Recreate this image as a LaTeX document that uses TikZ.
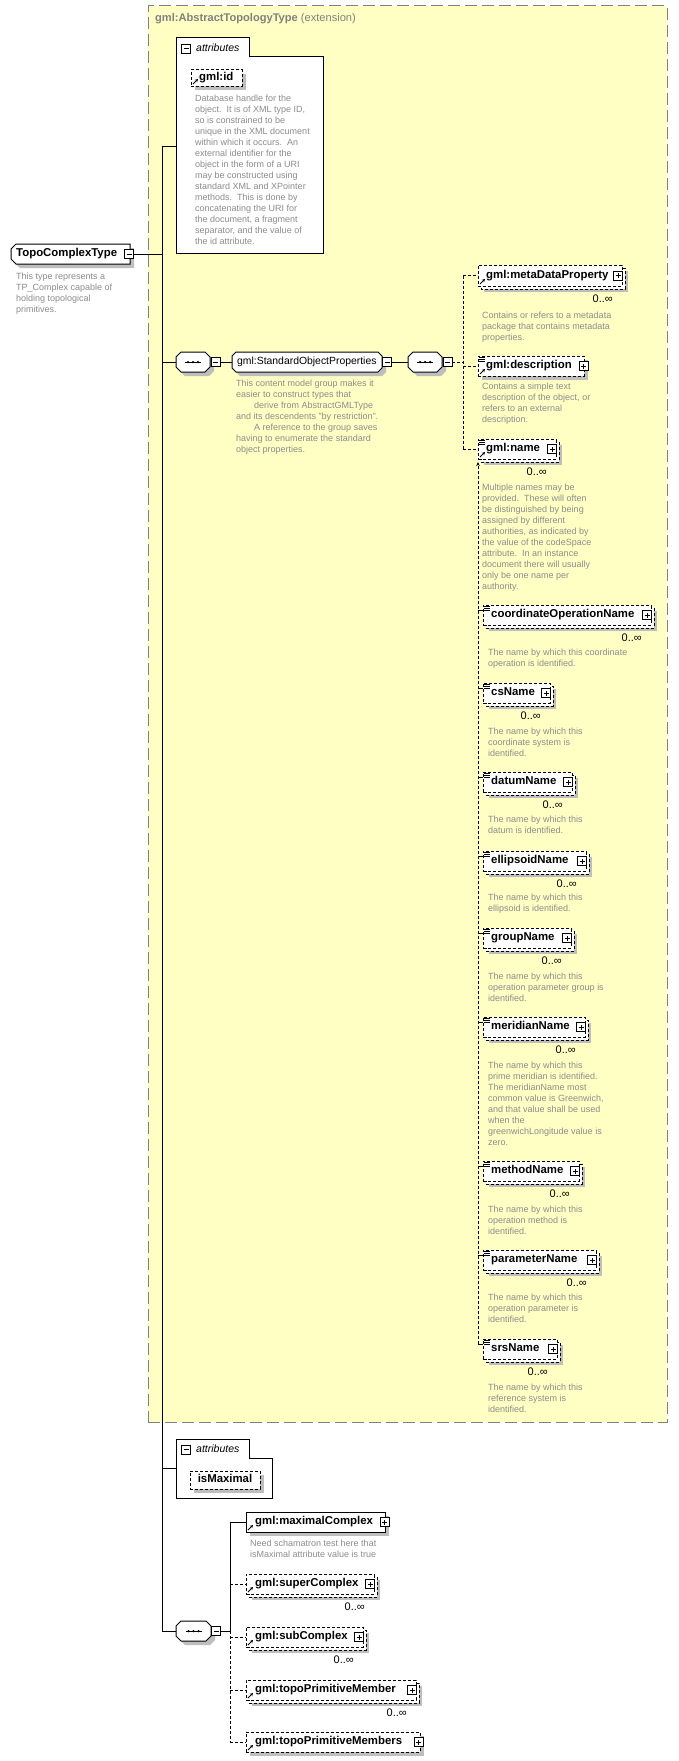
\documentclass[tikz,border=0pt]{standalone}
\usepackage{fontspec}
\setmainfont{Liberation Sans}
\usetikzlibrary{arrows.meta}
\definecolor{yel}{HTML}{FFFFC4}
\definecolor{shad}{HTML}{BEBEBE}
\definecolor{dtext}{HTML}{8C8C8C}
\definecolor{ttl}{HTML}{808080}
\tikzset{
  conn/.style={line width=1pt},
  dconn/.style={line width=1pt, dash pattern=on 3pt off 2pt},
  bx/.style={inner sep=0pt, outer sep=0pt, anchor=north west},
  framed/.style={draw, fill=white, line width=1pt},
  dframe/.style={framed, dash pattern=on 3pt off 2pt},
  lbl/.style={inner sep=0pt, anchor=west, font=\fontsize{11.4}{13}\selectfont\bfseries, text height=8.3pt, text depth=2.4pt},
  dsc/.style={inner sep=0pt, anchor=north west, align=left, text=dtext, font=\fontsize{9}{11}\selectfont},
  mlt/.style={inner sep=0pt, anchor=east, font=\fontsize{11}{12}\selectfont, text height=7.8pt, text depth=0pt},
  pmbox/.style={draw, fill=white, line width=0.8pt, inner sep=0pt, outer sep=0pt, minimum size=9pt},
  attlbl/.style={inner sep=0pt, anchor=west, font=\fontsize{10.5}{12}\selectfont\itshape},
}
% single box with shadow
\newcommand\SB[6]{%
  \fill[shad] (#2+4,#3+4) rectangle (#4+4,#5+4);
  \node[bx, #6, minimum width=#4-#2, minimum height=#5-#3] (#1) at (#2,#3) {};}
% multiple-occurrence box
\newcommand\MB[6]{%
  \fill[shad] (#2+6,#3+6) rectangle (#4+6,#5+6);
  \draw[#6] (#2+3,#3+3) rectangle (#4+3,#5+3);
  \node[bx, #6, minimum width=#4-#2, minimum height=#5-#3] (#1) at (#2,#3) {};}
\newcommand\PLUS[2]{%
  \node[pmbox] (#1) at #2 {};
  \draw[line width=0.8pt] ([xshift=-2.5pt]#1.center) -- ([xshift=2.5pt]#1.center);
  \draw[line width=0.8pt] ([yshift=-2.5pt]#1.center) -- ([yshift=2.5pt]#1.center);}
\newcommand\MINUS[2]{%
  \node[pmbox] (#1) at #2 {};
  \draw[line width=0.8pt] ([xshift=-2.5pt]#1.center) -- ([xshift=2.5pt]#1.center);}
\newcommand\REF[1]{\draw[line width=0.9pt, -{Stealth[length=3pt,width=3.2pt]}] ([shift={(2pt,2pt)}]#1.south west) -- ([shift={(7pt,7pt)}]#1.south west);}
\newcommand\EQV[1]{\foreach \k in {1.5pt,3.5pt,5.5pt}{\draw[line width=0.8pt] ([shift={(1pt,-\k)}]#1.north west) -- ([shift={(6.5pt,-\k)}]#1.north west);}}
\newcommand\ATT[7]{%
  \draw[line width=1pt, fill=white] (#2,#3) -- (#4,#3) -- (#4,#5) -- (#6,#5) -- (#6,#7) -- (#2,#7) -- cycle;
  \node[bx, minimum width=#6-#2, minimum height=#7-#3] (#1) at (#2,#3) {};}
% chamfered all corners
\newcommand\CHA[6]{%
  \fill[shad, shift={(4,4)}] (#2+#6,#3) -- (#4-#6,#3) -- (#4,#3+#6) -- (#4,#5-#6) -- (#4-#6,#5) -- (#2+#6,#5) -- (#2,#5-#6) -- (#2,#3+#6) -- cycle;
  \draw[framed] (#2+#6,#3) -- (#4-#6,#3) -- (#4,#3+#6) -- (#4,#5-#6) -- (#4-#6,#5) -- (#2+#6,#5) -- (#2,#5-#6) -- (#2,#3+#6) -- cycle;
  \node[bx, minimum width=#4-#2, minimum height=#5-#3] (#1) at (#2,#3) {};}
% chamfered left corners
\newcommand\CHL[6]{%
  \fill[shad, shift={(4,4)}] (#2+#6,#3) -- (#4,#3) -- (#4,#5) -- (#2+#6,#5) -- (#2,#5-#6) -- (#2,#3+#6) -- cycle;
  \draw[framed] (#2+#6,#3) -- (#4,#3) -- (#4,#5) -- (#2+#6,#5) -- (#2,#5-#6) -- (#2,#3+#6) -- cycle;
  \node[bx, minimum width=#4-#2, minimum height=#5-#3] (#1) at (#2,#3) {};}
\newcommand\DOTS[1]{%
  \draw[line width=0.7pt] ([xshift=-8pt]#1.center) -- ([xshift=8pt]#1.center);
  \fill ([xshift=-5pt]#1.center) circle[radius=1.25pt];
  \fill (#1.center) circle[radius=1.25pt];
  \fill ([xshift=5pt]#1.center) circle[radius=1.25pt];}
\begin{document}
\begin{tikzpicture}[x=1pt,y=-1pt]
\useasboundingbox (0,0) rectangle (678,1761);
\fill[white] (0,0) rectangle (678,1761);
% extension area
\node[bx, draw=ttl, fill=yel, line width=1pt, dash pattern=on 12pt off 5pt, minimum width=519, minimum height=1416] (ext) at (148,6) {};
\node[inner sep=0pt, anchor=west, text=ttl, font=\fontsize{11.1}{13}\selectfont] (ext-t) at (155,19) {\textbf{gml:AbstractTopologyType} (extension)};

% TopoComplexType
\CHL{tct}{11}{244}{130}{264}{5}
\node[lbl] (tct-t) at ([xshift=5pt]tct.west) {TopoComplexType};
\MINUS{tctm}{(129,254)}
\node[dsc] (tct-d) at (16,273) {This type represents a\\TP\_Complex capable of\\holding topological\\primitives.};

% attributes of AbstractTopologyType
\ATT{attr1}{176}{38}{249}{57}{323}{253}
\MINUS{attr1m}{(186,48.5)}
\node[attlbl] (attr1-t) at (196,48) {attributes};
\SB{gid}{191}{70}{242}{86}{dframe}
\node[lbl] (gid-t) at ([xshift=8pt]gid.west) {gml:id};
\REF{gid}
\node[dsc] (gid-d) at (195,95) {Database handle for the\\object.\ \ It is of XML type ID,\\so is constrained to be\\unique in the XML document\\within which it occurs.\ \ An\\external identifier for the\\object in the form of a URI\\may be constructed using\\standard XML and XPointer\\methods.\ \ This is done by\\concatenating the URI for\\the document, a fragment\\separator, and the value of\\the id attribute.};

% sequence 1 and group
\CHA{seq1}{176}{352}{210}{372}{5}
\DOTS{seq1}
\MINUS{seq1m}{(215.5,362)}
\CHA{grp}{232}{352}{382}{372}{4}
\node[inner sep=0pt, anchor=west, font=\fontsize{10.4}{12}\selectfont, text height=8pt, text depth=2.3pt] (grp-t) at ([xshift=5pt]grp.west) {gml:StandardObjectProperties};
\MINUS{grpm}{(387,362)}
\node[dsc] (grp-d) at (236,380) {This content model group makes it\\easier to construct types that\\\hspace*{18pt}derive from AbstractGMLType\\and its descendents "by restriction".\\\hspace*{18pt}A reference to the group saves\\having to enumerate the standard\\object properties.};

% sequence 2
\CHA{seq2}{408}{352}{442}{372}{5}
\DOTS{seq2}
\MINUS{seq2m}{(447.5,362)}

% metaDataProperty
\MB{meta}{478}{265}{622}{286}{dframe}
\node[lbl] (meta-t) at ([xshift=8pt]meta.west) {gml:metaDataProperty};
\PLUS{meta-p}{([xshift=-4pt]meta.east)}
\REF{meta}
\node[mlt] (meta-n) at ([shift={(-9pt,-13pt)}]meta.south east) {0..∞};
\node[dsc] (meta-d) at (482,312) {Contains or refers to a metadata\\package that contains metadata\\properties.};

% description
\SB{descr}{478}{356}{584}{376}{dframe}
\node[lbl] (descr-t) at ([xshift=8pt]descr.west) {gml:description};
\PLUS{descr-p}{([xshift=-0.5pt]descr.east)}
\REF{descr}
\EQV{descr}
\node[dsc] (descr-d) at (482,383) {Contains a simple text\\description of the object, or\\refers to an external\\description.};

% name
\MB{name}{478}{439}{556}{459}{dframe}
\node[lbl] (name-t) at ([xshift=8pt]name.west) {gml:name};
\PLUS{name-p}{([xshift=-4pt]name.east)}
\REF{name}
\EQV{name}
\node[mlt] (name-n) at ([shift={(-9pt,-13pt)}]name.south east) {0..∞};
\node[dsc] (name-d) at (482,484) {Multiple names may be\\provided.\ \ These will often\\be distinguished by being\\assigned by different\\authorities, as indicated by\\the value of the codeSpace\\attribute.\ \ In an instance\\document there will usually\\only be one name per\\authority.};

% substitution group members
\MB{coordop}{483}{605}{651}{625}{dframe}
\node[lbl] (coordop-t) at ([xshift=8pt]coordop.west) {coordinateOperationName};
\PLUS{coordop-p}{([xshift=-4pt]coordop.east)}
\EQV{coordop}
\node[mlt] (coordop-n) at ([shift={(-9pt,-13pt)}]coordop.south east) {0..∞};
\node[dsc] (coordop-d) at (488,649) {The name by which this coordinate\\operation is identified.};

\MB{csname}{483}{683}{550}{703}{dframe}
\node[lbl] (csname-t) at ([xshift=8pt]csname.west) {csName};
\PLUS{csname-p}{([xshift=-4pt]csname.east)}
\EQV{csname}
\node[mlt] (csname-n) at ([shift={(-9pt,-13pt)}]csname.south east) {0..∞};
\node[dsc] (csname-d) at (488,728) {The name by which this\\coordinate system is\\identified.};

\MB{datum}{483}{772}{572}{792}{dframe}
\node[lbl] (datum-t) at ([xshift=8pt]datum.west) {datumName};
\PLUS{datum-p}{([xshift=-4pt]datum.east)}
\EQV{datum}
\node[mlt] (datum-n) at ([shift={(-9pt,-13pt)}]datum.south east) {0..∞};
\node[dsc] (datum-d) at (488,816) {The name by which this\\datum is identified.};

\MB{ellips}{483}{851}{586}{871}{dframe}
\node[lbl] (ellips-t) at ([xshift=8pt]ellips.west) {ellipsoidName};
\PLUS{ellips-p}{([xshift=-4pt]ellips.east)}
\EQV{ellips}
\node[mlt] (ellips-n) at ([shift={(-9pt,-13pt)}]ellips.south east) {0..∞};
\node[dsc] (ellips-d) at (488,894) {The name by which this\\ellipsoid is identified.};

\MB{groupn}{483}{928}{571}{948}{dframe}
\node[lbl] (groupn-t) at ([xshift=8pt]groupn.west) {groupName};
\PLUS{groupn-p}{([xshift=-4pt]groupn.east)}
\EQV{groupn}
\node[mlt] (groupn-n) at ([shift={(-9pt,-13pt)}]groupn.south east) {0..∞};
\node[dsc] (groupn-d) at (488,973) {The name by which this\\operation parameter group is\\identified.};

\MB{merid}{483}{1017}{585}{1037}{dframe}
\node[lbl] (merid-t) at ([xshift=8pt]merid.west) {meridianName};
\PLUS{merid-p}{([xshift=-4pt]merid.east)}
\EQV{merid}
\node[mlt] (merid-n) at ([shift={(-9pt,-13pt)}]merid.south east) {0..∞};
\node[dsc] (merid-d) at (488,1062) {The name by which this\\prime meridian is identified.\\The meridianName most\\common value is Greenwich,\\and that value shall be used\\when the\\greenwichLongitude value is\\zero.};

\MB{method}{483}{1161}{579}{1181}{dframe}
\node[lbl] (method-t) at ([xshift=8pt]method.west) {methodName};
\PLUS{method-p}{([xshift=-4pt]method.east)}
\EQV{method}
\node[mlt] (method-n) at ([shift={(-9pt,-13pt)}]method.south east) {0..∞};
\node[dsc] (method-d) at (488,1206) {The name by which this\\operation method is\\identified.};

\MB{param}{483}{1250}{596}{1270}{dframe}
\node[lbl] (param-t) at ([xshift=8pt]param.west) {parameterName};
\PLUS{param-p}{([xshift=-4pt]param.east)}
\EQV{param}
\node[mlt] (param-n) at ([shift={(-9pt,-13pt)}]param.south east) {0..∞};
\node[dsc] (param-d) at (488,1294) {The name by which this\\operation parameter is\\identified.};

\MB{srs}{483}{1339}{557}{1359}{dframe}
\node[lbl] (srs-t) at ([xshift=8pt]srs.west) {srsName};
\PLUS{srs-p}{([xshift=-4pt]srs.east)}
\EQV{srs}
\node[mlt] (srs-n) at ([shift={(-9pt,-13pt)}]srs.south east) {0..∞};
\node[dsc] (srs-d) at (488,1384) {The name by which this\\reference system is\\identified.};

% attributes of TopoComplexType
\ATT{attr2}{176}{1439}{249}{1458}{272}{1498}
\MINUS{attr2m}{(186,1449.5)}
\node[attlbl] (attr2-t) at (196,1449) {attributes};
\SB{ismax}{190}{1471}{260}{1489}{dframe}
\node[lbl, anchor=center] (ismax-t) at (ismax.center) {isMaximal};

% sequence 3 and its elements
\CHA{seq3}{176}{1621}{211}{1641}{5}
\DOTS{seq3}
\MINUS{seq3m}{(216,1631)}

\SB{maxc}{246}{1512}{385}{1532}{framed}
\node[lbl] (maxc-t) at ([xshift=9pt]maxc.west) {gml:maximalComplex};
\PLUS{maxc-p}{([xshift=-0.5pt]maxc.east)}
\REF{maxc}
\node[dsc] (maxc-d) at (250,1540) {Need schamatron test here that\\isMaximal attribute value is true};

\MB{superc}{246}{1574}{374}{1594}{dframe}
\node[lbl] (superc-t) at ([xshift=9pt]superc.west) {gml:superComplex};
\PLUS{superc-p}{([xshift=-4pt]superc.east)}
\REF{superc}
\node[mlt] (superc-n) at ([shift={(-9pt,-13pt)}]superc.south east) {0..∞};

\MB{subc}{246}{1627}{363}{1647}{dframe}
\node[lbl] (subc-t) at ([xshift=9pt]subc.west) {gml:subComplex};
\PLUS{subc-p}{([xshift=-4pt]subc.east)}
\REF{subc}
\node[mlt] (subc-n) at ([shift={(-9pt,-13pt)}]subc.south east) {0..∞};

\MB{tpm}{246}{1680}{416}{1700}{dframe}
\node[lbl] (tpm-t) at ([xshift=9pt]tpm.west) {gml:topoPrimitiveMember};
\PLUS{tpm-p}{([xshift=-4pt]tpm.east)}
\REF{tpm}
\node[mlt] (tpm-n) at ([shift={(-9pt,-13pt)}]tpm.south east) {0..∞};

\SB{tpms}{246}{1732}{420}{1752}{dframe}
\node[lbl] (tpms-t) at ([xshift=9pt]tpms.west) {gml:topoPrimitiveMembers};
\PLUS{tpms-p}{([xshift=-1.5pt]tpms.east)}
\REF{tpms}

% connectors
\coordinate (vl) at (162,146);
\coordinate (dv) at (463,0);
\coordinate (sv) at (478,0);
\coordinate (v3) at (230,0);
\draw[conn] (tctm.east) -- (tctm.east -| vl);
\draw[conn] (vl) -- (vl |- seq3.west);
\draw[conn] (vl) -- (vl -| attr1.west);
\draw[conn] (vl |- seq1.west) -- (seq1.west);
\draw[conn] (seq1m.east) -- (grp.west);
\draw[conn] (grpm.east) -- (seq2.west);
\draw[dconn] (seq2m.east) -- (seq2m.east -| dv);
\draw[dconn] (meta.west -| dv) -- (name.west -| dv);
\draw[dconn] (meta.west -| dv) -- (meta.west);
\draw[dconn] (descr.west -| dv) -- (descr.west);
\draw[dconn] (name.west -| dv) -- (name.west);
\draw[dconn, -{Stealth[length=4pt,width=3.5pt]}] ([yshift=-5pt]srs.north west -| sv) -- ([yshift=-3pt]name.south west);
\foreach \n in {coordop,csname,datum,ellips,groupn,merid,method,param,srs}{
  \draw[line width=1pt] ([yshift=-5pt]\n.north west -| sv) -- ([yshift=-5pt]\n.north west);}
\draw[conn] (vl |- attr2.west) -- (attr2.west);
\draw[conn] (vl |- seq3.west) -- (seq3.west);
\draw[conn] (seq3m.east) -- (seq3m.east -| v3);
\draw[conn] (maxc.west -| v3) -- (seq3m.east -| v3);
\draw[conn] (maxc.west -| v3) -- (maxc.west);
\draw[dconn] (seq3m.east -| v3) -- (tpms.west -| v3);
\draw[dconn] (superc.west -| v3) -- (superc.west);
\draw[dconn] (subc.west -| v3) -- (subc.west);
\draw[dconn] (tpm.west -| v3) -- (tpm.west);
\draw[dconn] (tpms.west -| v3) -- (tpms.west);
\end{tikzpicture}
\end{document}
